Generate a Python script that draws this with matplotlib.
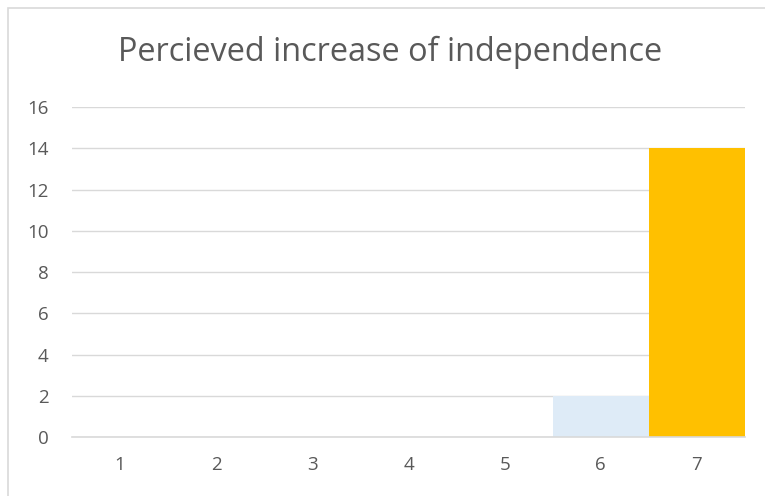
import matplotlib
matplotlib.use("Agg")
import matplotlib.pyplot as plt
from matplotlib.patches import Rectangle

categories = ["1", "2", "3", "4", "5", "6", "7"]
values = [0, 0, 0, 0, 0, 2, 14]
colors = ["#DEEBF7", "#DEEBF7", "#DEEBF7", "#DEEBF7", "#DEEBF7", "#DEEBF7", "#FFC000"]
yticks = [0, 2, 4, 6, 8, 10, 12, 14, 16]
title = "Percieved increase of independence"

plt.rcParams['font.family'] = ['Open Sans', 'DejaVu Sans']

fig = plt.figure(figsize=(7.65, 4.96), dpi=100)
ax = fig.add_axes([72/765, 59/496, (745-72)/765, (437-107)/496])

x = list(range(len(categories)))
ax.bar(x, values, width=1.0, color=colors, zorder=3)
ax.set_xlim(-0.5, len(categories) - 0.5)
ax.set_ylim(0, 16)
ax.set_yticks(yticks)
ax.set_xticks(x)
ax.set_xticklabels(categories)
ax.yaxis.grid(True, color="#D9D9D9", linewidth=1.0, zorder=0)
for s in ["top", "right", "left"]:
    ax.spines[s].set_visible(False)
ax.spines["bottom"].set_color("#D9D9D9")
ax.spines["bottom"].set_linewidth(1.2)
ax.spines["bottom"].set_zorder(4)
ax.tick_params(axis="both", length=0, labelsize=13.5, labelcolor="#595959")
ax.tick_params(axis="y", pad=17)
ax.tick_params(axis="x", pad=14)

fig.text(390.5/765, 1 - 52/496, title, ha="center", va="center",
         fontsize=23.4, color="#595959")

fig.add_artist(Rectangle((7.5/765, -0.1), 1.2, 1 - 8/496 + 0.1, transform=fig.transFigure,
                         fill=False, edgecolor="#D9D9D9", linewidth=1.2))

fig.savefig("out.png", dpi=100)
